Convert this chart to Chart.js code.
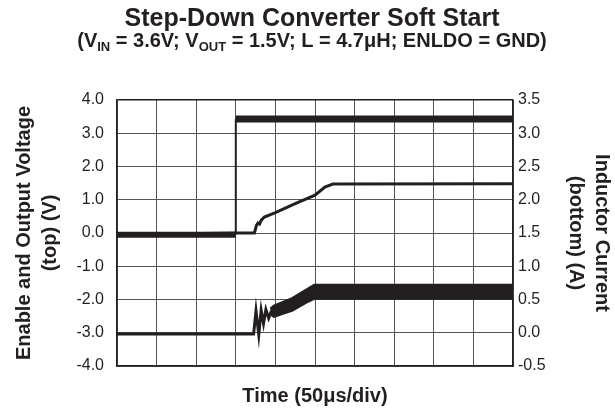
<!DOCTYPE html>
<html>
<head>
<meta charset="utf-8">
<script src="https://cdn.jsdelivr.net/npm/chart.js@4"></script>
<style>
    html, body { margin: 0; padding: 0; background: #fff; }
    #wrap { width: 615px; height: 414px; }
</style>
</head>
<body>
<div id="wrap"><canvas id="soft-start" width="615" height="414"></canvas></div>
<script>
// ====================================
// Step-Down Converter Soft Start (scope capture)
// x = time in divisions (50us/div)
// ====================================

const FONT = '"Liberation Sans", Arial, Helvetica, sans-serif';
const INK = '#231f20';
const GRID = '#555555';

const TITLE = 'Step-Down Converter Soft Start';
const SUBTITLE_PARTS = [
    ['(V', false], ['IN', true], [' = 3.6V; V', false], ['OUT', true],
    [' = 1.5V; L = 4.7μH; ENLDO = GND)', false]
];

const LEFT_TICKS = ['-4.0', '-3.0', '-2.0', '-1.0', '0.0', '1.0', '2.0', '3.0', '4.0'];
const RIGHT_TICKS = ['-0.5', '0.0', '0.5', '1.0', '1.5', '2.0', '2.5', '3.0', '3.5'];

// Enable (V, left axis)
const enableLowX = [0, 3.0];
const enableLowY = [-0.05, -0.05];
const enableStepX = [3.0, 3.0];
const enableStepY = [-0.05, 3.43];
const enableHighX = [3.0, 10];
const enableHighY = [3.43, 3.43];

// Output voltage (V, left axis)
const voutX = [0, 3.0, 3.47, 3.52, 3.56, 3.6, 3.64, 3.72, 4.0, 4.5, 5.0, 5.25, 5.45, 10];
const voutY = [-0.05, 0.0, 0.0, 0.22, 0.3, 0.27, 0.38, 0.48, 0.61, 0.88, 1.14, 1.38, 1.47, 1.48];

// Inductor current (A, right axis)
const ilX = [0, 3.45, 3.51, 3.58, 3.64, 3.70, 3.76, 3.83, 3.9];
const ilY = [-0.02, -0.02, 0.33, -0.03, 0.34, 0.14, 0.35, 0.22, 0.33];
const ilBandX = [3.87, 3.96, 4.42, 4.84, 4.98, 10];
const ilBandHigh = [0.36, 0.41, 0.52, 0.67, 0.72, 0.72];
const ilBandLow = [0.28, 0.24, 0.33, 0.47, 0.51, 0.51];

function pts(xs, ys) {
    return xs.map((x, i) => ({ x: x, y: ys[i] }));
}

function trace(xs, ys, width, axis, extra) {
    return Object.assign({
        data: pts(xs, ys),
        yAxisID: axis,
        borderColor: INK,
        backgroundColor: INK,
        borderWidth: width,
        pointRadius: 0,
        tension: 0,
        fill: false
    }, extra || {});
}

const titlesPlugin = {
    id: 'titles',
    afterDraw(chart) {
        const ctx = chart.ctx;
        const cx = 312;
        ctx.save();
        ctx.fillStyle = INK;
        ctx.textBaseline = 'alphabetic';
        ctx.textAlign = 'center';
        ctx.font = 'bold 25px ' + FONT;
        ctx.fillText(TITLE, cx, 26);

        const mainFont = 'bold 20px ' + FONT;
        const subFont = 'bold 13px ' + FONT;
        let total = 0;
        SUBTITLE_PARTS.forEach(([t, sub]) => {
            ctx.font = sub ? subFont : mainFont;
            total += ctx.measureText(t).width;
        });
        let x = cx - total / 2;
        ctx.textAlign = 'left';
        SUBTITLE_PARTS.forEach(([t, sub]) => {
            ctx.font = sub ? subFont : mainFont;
            ctx.fillText(t, x, sub ? 51 : 47);
            x += ctx.measureText(t).width;
        });
        ctx.restore();
    }
};

const ctx = document.getElementById('soft-start').getContext('2d');

new Chart(ctx, {
    type: 'line',
    data: {
        datasets: [
            trace(enableLowX, enableLowY, 6, 'y'),
            trace(enableStepX, enableStepY, 2, 'y'),
            trace(enableHighX, enableHighY, 7, 'y'),
            trace(voutX, voutY, 3, 'y'),
            trace(ilX, ilY, 3, 'y2'),
            trace(ilBandX, ilBandHigh, 2, 'y2', { fill: '+1' }),
            trace(ilBandX, ilBandLow, 2, 'y2')
        ]
    },
    options: {
        responsive: false,
        animation: false,
        devicePixelRatio: 1,
        layout: { padding: { top: 100, left: 0, right: 0, bottom: 0 } },
        plugins: {
            legend: { display: false },
            tooltip: { enabled: false }
        },
        scales: {
            x: {
                type: 'linear',
                min: 0,
                max: 10,
                ticks: { display: false, stepSize: 1 },
                grid: { color: GRID, lineWidth: 1, drawTicks: false },
                border: { color: INK, width: 1.5 },
                title: {
                    display: true,
                    text: 'Time (50μs/div)',
                    color: INK,
                    font: { family: FONT, size: 20, weight: 'bold' },
                    padding: { top: 0, bottom: 6 }
                },
                afterFit: s => { s.height = 48; }
            },
            y: {
                position: 'left',
                min: -4,
                max: 4,
                ticks: {
                    stepSize: 1,
                    color: INK,
                    padding: 13,
                    font: { family: FONT, size: 16 },
                    callback: (v, i) => LEFT_TICKS[i]
                },
                grid: {
                    drawTicks: false,
                    color: c => (c.tick && c.tick.value === 4) ? INK : GRID,
                    lineWidth: c => (c.tick && c.tick.value === 4) ? 1.5 : 1
                },
                border: { color: INK, width: 1.5 },
                title: {
                    display: true,
                    text: ['Enable and Output Voltage', '(top) (V)'],
                    color: INK,
                    font: { family: FONT, size: 20, weight: 'bold', lineHeight: 1.3 },
                    padding: { top: 11, bottom: 0 }
                },
                afterFit: s => { s.width = 117; }
            },
            y2: {
                position: 'right',
                min: -0.5,
                max: 3.5,
                ticks: {
                    stepSize: 0.5,
                    color: INK,
                    padding: 5,
                    font: { family: FONT, size: 16 },
                    callback: (v, i) => RIGHT_TICKS[i]
                },
                grid: { display: false, drawTicks: false },
                border: { color: INK, width: 1.5 },
                title: {
                    display: true,
                    text: ['Inductor Current', '(bottom) (A)'],
                    color: INK,
                    font: { family: FONT, size: 20, weight: 'bold', lineHeight: 1.3 },
                    padding: { top: 0, bottom: 0 }
                },
                afterFit: s => { s.width = 102; }
            }
        }
    },
    plugins: [titlesPlugin]
});
</script>
</body>
</html>
